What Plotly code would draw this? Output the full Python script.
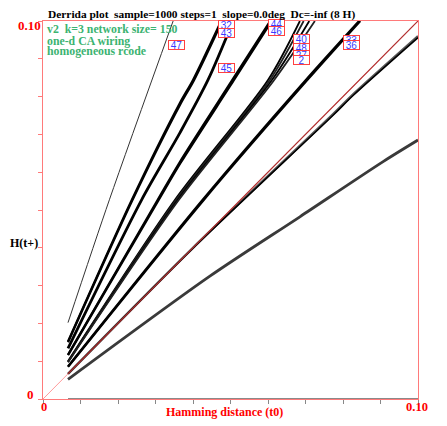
import plotly.graph_objects as go

# ---- data (Hamming distance t0 -> H(t+1)) ----
s47_x = [0.00667, 0.0177, 0.0347]
s47_y = [0.0202, 0.0527, 0.1]
s32_x = [0.00667, 0.0237, 0.0365, 0.0400, 0.0475]
s32_y = [0.0152, 0.0527, 0.0783, 0.0844, 0.1]
s43_x = [0.00667, 0.0238, 0.0367, 0.0402, 0.0478]
s43_y = [0.0150, 0.0525, 0.0781, 0.0842, 0.1]
s45_x = [0.00667, 0.0263, 0.0365, 0.0440, 0.0507]
s45_y = [0.0134, 0.0527, 0.0704, 0.0844, 0.1]
s44_x = [0.00667, 0.0306, 0.0365, 0.0505, 0.0606]
s44_y = [0.0117, 0.0527, 0.0627, 0.0844, 0.1]
s46_x = [0.00667, 0.0308, 0.0367, 0.0508, 0.0610]
s46_y = [0.0116, 0.0526, 0.0625, 0.0842, 0.1]
s40_x = [0.00667, 0.0352, 0.0600, 0.0685]
s40_y = [0.0100, 0.0527, 0.0844, 0.1]
s48_x = [0.00667, 0.0355, 0.0605, 0.0695]
s48_y = [0.0099, 0.0527, 0.0844, 0.1]
s27_x = [0.00667, 0.0358, 0.0610, 0.0710]
s27_y = [0.0098, 0.0526, 0.0843, 0.1]
s2_x = [0.00667, 0.0361, 0.0615, 0.0725]
s2_y = [0.0097, 0.0525, 0.0842, 0.1]
s33_x = [0.00667, 0.0426, 0.0701, 0.0843]
s33_y = [0.0086, 0.0527, 0.0844, 0.1]
s36_x = [0.00667, 0.0428, 0.0704, 0.0846]
s36_y = [0.0085, 0.0526, 0.0843, 0.1]
s37_x = [0.00667, 0.1]
s37_y = [0.00667, 0.1]
s11_x = [0.00667, 0.0400, 0.0773, 0.0827, 0.1]
s11_y = [0.00667, 0.0400, 0.0753, 0.0806, 0.0960]
s12_x = [0.00667, 0.0400, 0.0773, 0.0827, 0.1]
s12_y = [0.00667, 0.0399, 0.0750, 0.0803, 0.0956]
s5_x = [0.00667, 0.0445, 0.0685, 0.0907, 0.1]
s5_y = [0.0052, 0.0325, 0.0482, 0.0628, 0.0685]
s0_x = [0.00667, 0.1]
s0_y = [0.0, 0.0]

# label names and where their boxes sit (data coords)
label_names = ["47", "32", "43", "45", "44", "46", "40", "48", "27", "2",
               "33", "36", "37", "11", "12", "5", "0"]
label_x = [0.0333, 0.0466, 0.0466, 0.0466, 0.0600, 0.0600, 0.0667, 0.0667,
           0.0667, 0.0667, 0.0800, 0.0800, 0.1002, 0.1002, 0.1002, 0.1002, 0.1002]
label_y = [0.0937, 0.0989, 0.0968, 0.0876, 0.0992, 0.0974, 0.0952, 0.0929,
           0.0910, 0.0897, 0.0950, 0.0937, 0.0988, 0.0950, 0.0937, 0.0672, -0.0008]

tick_vals = [i / 100 for i in range(11)]
end_tick_labels = ["0", "0.10"]

diag_x = [0.0, 0.1]
diag_y = [0.0, 0.1]

fig = go.Figure()

def add(x, y, color="black", width=2.5):
    fig.add_trace(go.Scatter(x=x, y=y, mode="lines",
                             line=dict(color=color, width=width, shape="spline", smoothing=0.8),
                             showlegend=False, hoverinfo="skip"))

# reference diagonal
add(diag_x, diag_y, "#ff9a9a", 1)
add(s0_x, s0_y, "#8a8a8a", 2)
add(s47_x, s47_y, "#333333", 1)
add(s32_x, s32_y, "black", 2.2)
add(s43_x, s43_y, "black", 2.2)
add(s45_x, s45_y, "black", 2.8)
add(s44_x, s44_y, "black", 2.3)
add(s46_x, s46_y, "black", 2.3)
add(s40_x, s40_y, "black", 1.8)
add(s48_x, s48_y, "#222222", 1.8)
add(s27_x, s27_y, "black", 1.8)
add(s2_x, s2_y, "#222222", 1.8)
add(s33_x, s33_y, "black", 2.3)
add(s36_x, s36_y, "black", 2.3)
add(s11_x, s11_y, "#555555", 2.5)
add(s12_x, s12_y, "black", 1.5)
add(s5_x, s5_y, "#3a3a3a", 2.8)
add(s37_x, s37_y, "#b03030", 1.2)

serif = "Liberation Serif, Times New Roman, serif"

for t, lx, ly in zip(label_names, label_x, label_y):
    fig.add_annotation(x=lx, y=ly, xref="x", yref="y", text=t, showarrow=False,
                       xanchor="left", yanchor="middle",
                       font=dict(family="Liberation Sans, Arial, sans-serif", size=10, color="#3a3aff"),
                       bgcolor="white", bordercolor="#ff4040", borderwidth=1, borderpad=0,
                       width=15, height=8)

def txt(x, y, s, color, size=12.5, xa="left"):
    fig.add_annotation(x=x, y=y, xref="paper", yref="paper", text="<b>" + s + "</b>",
                       showarrow=False, xanchor=xa, yanchor="middle",
                       font=dict(family=serif, size=size, color=color))

txt(0.008, 1.018, "Derrida plot\u00a0\u00a0sample=1000 steps=1\u00a0\u00a0slope=0.0deg\u00a0\u00a0Dc=-inf (8 H)", "black", size=11.4)
green = "#3cb371"
txt(0.005, 0.9788, "v2\u00a0\u00a0k=3 network size= 150", green, size=11.8)
txt(0.005, 0.9484, "one-d CA wiring", green, size=11.8)
txt(0.005, 0.9206, "homogeneous rcode", green, size=11.8)
txt(-0.0507, 0.4127, "H(t+)", "black", size=12, xa="center")
txt(0.4827, -0.0344, "Hamming distance (t0)", "red", size=12, xa="center")
# axis end labels
txt(0.0, 0.9868, end_tick_labels[1], "red", size=13, xa="right")
txt(-0.0187, 0.0132, end_tick_labels[0], "red", size=13, xa="right")
txt(0.0027, -0.0212, end_tick_labels[0], "red", size=12.5, xa="center")
txt(0.997, -0.0212, end_tick_labels[1], "red", size=12.5, xa="center")

# page body has an 8px default margin, so the figure is offset by 8px
fig.update_layout(
    width=439, height=418,
    margin=dict(l=35, r=29, t=13, b=27, autoexpand=False),
    paper_bgcolor="white", plot_bgcolor="white",
    xaxis=dict(range=[0, 0.1], showgrid=False, zeroline=False, automargin=False,
               showline=True, linecolor="#ff7a7a", linewidth=1, mirror=True,
               tickvals=tick_vals, showticklabels=False,
               ticks="outside", ticklen=4, tickcolor="#888888"),
    yaxis=dict(range=[0, 0.1], showgrid=False, zeroline=False, automargin=False,
               showline=True, linecolor="#ff7a7a", linewidth=1, mirror=True,
               tickvals=tick_vals, showticklabels=False,
               ticks="outside", ticklen=4, tickcolor="#ff7a7a"),
)

fig.write_html("out.html")
